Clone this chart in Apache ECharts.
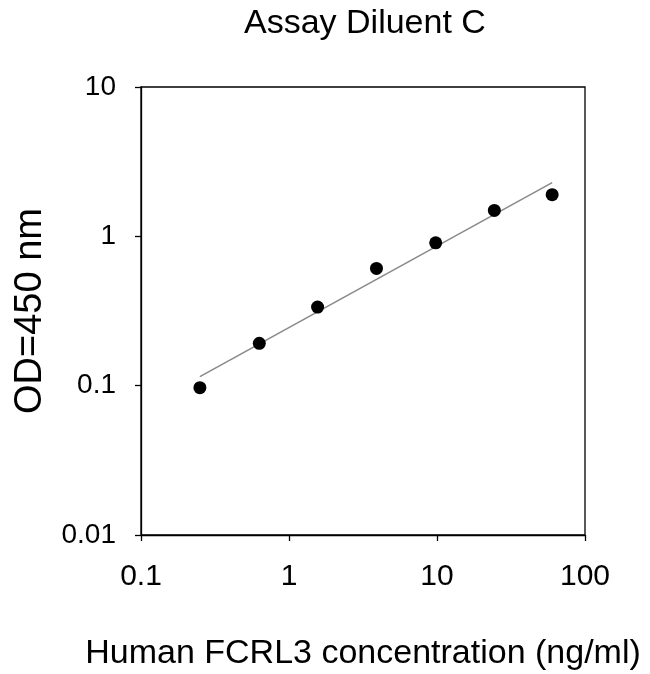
<!DOCTYPE html>
<html>
<head>
  <meta charset="UTF-8">
  <title>Assay Diluent C</title>
  <script type="text/javascript" src="https://cdn.jsdelivr.net/npm/echarts@6/dist/echarts.min.js"></script>
  <style type="text/css">
    *{ margin: 0; padding: 0; box-sizing: border-box; }
    html, body{ width: 100%; height: 100%; background: #fff; }
    #main{ width: 650px; height: 674px; }
  </style>
</head>
<body>
  <div id="main"></div>
  <script type="text/javascript">
    // 标准曲线数据
    var conc = [0.25, 0.63, 1.56, 3.9, 9.8, 24.4, 60];      // ng/ml
    var od = [0.097, 0.192, 0.336, 0.61, 0.905, 1.49, 1.9]; // OD450
    // 拟合线两端
    var fitX = [0.25, 60];
    var fitY = [0.115, 2.29];
    var xTicks = [0.1, 1, 10, 100];
    var yTicks = [0.01, 0.1, 1, 10];

    var font = 'Liberation Sans, Arial, sans-serif';

    var myChart = echarts.init(document.getElementById('main'));
    var option = {
      backgroundColor: '#fff',
      animation: false,
      title: {
        text: 'Assay Diluent C', left: 239, top: 2,
        textStyle: { color: '#000', fontWeight: 'normal', fontSize: 34, fontFamily: font }
      },
      grid: {
        left: 141, right: 65, top: 87, bottom: 139,
        outerBoundsMode: 'none', containLabel: false,
        show: true, borderColor: '#000', borderWidth: 1.3, backgroundColor: 'transparent'
      },
      xAxis: {
        type: 'log', logBase: 10, min: xTicks[0], max: xTicks[xTicks.length - 1],
        name: 'Human FCRL3 concentration (ng/ml)', nameLocation: 'middle', nameGap: 102,
        nameTextStyle: { color: '#000', fontSize: 34, fontFamily: font },
        axisLine: { lineStyle: { color: '#000', width: 1.3 } },
        axisTick: { show: true, inside: false, length: 6, lineStyle: { color: '#000', width: 1.3 } },
        minorTick: { show: false },
        splitLine: { show: false },
        axisLabel: {
          color: '#000', fontSize: 30, fontFamily: font, margin: 27,
          formatter: function (v) { return String(+v.toPrecision(3)); }
        }
      },
      yAxis: {
        type: 'log', logBase: 10, min: yTicks[0], max: yTicks[yTicks.length - 1],
        name: 'OD=450 nm', nameLocation: 'middle', nameGap: 91, nameRotate: 90,
        nameTextStyle: { color: '#000', fontSize: 38, fontFamily: font },
        axisLine: { lineStyle: { color: '#000', width: 1.3 } },
        axisTick: { show: true, inside: false, length: 6, lineStyle: { color: '#000', width: 1.3 } },
        minorTick: { show: false },
        splitLine: { show: false },
        axisLabel: {
          color: '#000', fontSize: 28, fontFamily: font, margin: 25,
          formatter: function (v) { return String(+v.toPrecision(3)); }
        }
      },
      series: [
        {
          type: 'line', name: 'fit',
          data: fitX.map(function (x, i) { return [x, fitY[i]]; }),
          showSymbol: false, symbol: 'none',
          lineStyle: { color: '#8a8a8a', width: 1.6 },
          z: 1
        },
        {
          type: 'scatter', name: 'OD',
          data: conc.map(function (x, i) { return [x, od[i]]; }),
          symbol: 'circle', symbolSize: 13,
          itemStyle: { color: '#000', opacity: 1 },
          z: 2
        }
      ]
    };
    myChart.setOption(option);
  </script>
</body>
</html>
